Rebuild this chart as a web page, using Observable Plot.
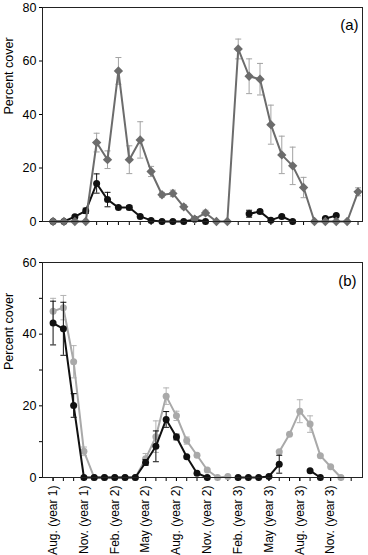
<!DOCTYPE html>
<html>
<head>
<meta charset="utf-8">
<script src="https://cdn.jsdelivr.net/npm/d3@7"></script>
<script src="https://cdn.jsdelivr.net/npm/@observablehq/plot@0.6"></script>
<style>
  html, body { margin: 0; padding: 0; background: #fff; }
  #wrap { position: relative; width: 368px; height: 555px; background: #fff; }
  #pa, #pb { position: absolute; left: 0; }
  #pa { top: 0; }
  #pb { top: 250px; }
</style>
</head>
<body>
<div id="wrap"><div id="pa"></div><div id="pb"></div></div>
<script>
// ---------- Panel (a) data ----------
const samplesA = [0,1,2,3,4,5,6,7,8,9,10,11,12,13,14,15,16,17,18,19,20,21,22,23,24,25,26,27,28];
const grayA    = [0,0,0,0,29.5,23.1,56.3,23.1,30.5,18.7,10,10.5,5.5,0.9,3.2,0,0,64.5,54.3,53.2,36.2,24.9,20.8,12.7,0,0,0,0,11.1];
const grayAErr = [null,null,null,null,3.5,3.3,5,5.2,6.8,1.9,0.9,1.2,0.8,0.6,1.0,null,null,3.7,6.5,5.9,7.3,7,7,3.8,null,null,null,null,1.5];
const blackA   = [0,0,1.8,4.0,14.2,8.2,5.2,5.2,1.9,0.4,0,0,0,0.8,0,null,null,null,2.9,3.7,0.5,1.9,0,null,null,1.1,2.2,null,null];
const blackAErr= [null,null,null,1.0,3.6,2.7,null,0.8,null,null,null,null,null,null,null,null,null,null,1.3,0.6,null,0.4,null,null,null,null,null,null,null];
const yTicksA  = [0,20,40,60,80];

// ---------- Panel (b) data ----------
const samplesB = [0,1,2,3,4,5,6,7,8,9,10,11,12,13,14,15,16,17,18,19,20,21,22,23,24,25,26,27,28];
const grayB    = [46.4,47.4,32.3,7.3,0,0,0,0,0,5.2,11.4,22.7,17.2,10.3,6.2,2.1,0,0.3,null,null,null,null,7.2,12.1,18.5,14.9,6.1,3.0,0];
const grayBErr = [3.6,3.4,4.5,1.2,null,null,null,null,null,1.5,4.4,2.3,1.3,1.0,null,null,null,null,null,null,null,null,null,null,3.2,2.3,null,null,null];
const blackB   = [43.1,41.5,20.1,0,0,0,0,0,0,4.2,8.7,16.2,11.3,5.8,1.2,0,null,null,0,0,0,0.3,3.7,null,null,1.9,0,null,null];
const blackBErr= [6.1,7.4,3.3,null,null,null,null,null,null,0.8,4.3,2.2,0.8,null,null,null,null,null,null,null,null,null,2.5,null,null,null,null,null,null];
const yTicksB  = [0,10,20,30,40,50,60];
const yLabelsB = [0,20,40,60];
const xTicksB  = [0,1,2,3,4,5,6,7,8,9,10,11,12,13,14,15,16,17,18,19,20,21,22,23,24,25,26,27,28,29];
const labelPos = [0,3,6,9,12,15,18,21,24,27];
const monthLabels = ["Aug. (year 1)","Nov. (year 1)","Feb. (year 2)","May (year 2)","Aug. (year 2)",
                     "Nov. (year 2)","Feb. (year 3)","May (year 3)","Aug. (year 3)","Nov. (year 3)"];

const FONT = "'Liberation Sans', Arial, Helvetica, sans-serif";
const cap = { draw(ctx, size) { const w = Math.sqrt(size / Math.PI); ctx.moveTo(-w, 0); ctx.lineTo(w, 0); } };

function rows(xs, v, e) {
  return xs.map((i, k) => ({ i, v: v[k], e: e[k] }));
}
function errMarks(data, color) {
  const d = data.filter(r => r.v != null && r.e != null);
  return [
    Plot.ruleX(d, { x: "i", y1: r => Math.max(0, r.v - r.e), y2: r => r.v + r.e, stroke: color, strokeWidth: 1 }),
    Plot.dot(d, { x: "i", y: r => r.v + r.e, symbol: cap, r: 3, stroke: color, strokeWidth: 1, fill: "none" }),
    Plot.dot(d.filter(r => r.v - r.e > 0), { x: "i", y: r => r.v - r.e, symbol: cap, r: 3, stroke: color, strokeWidth: 1, fill: "none" })
  ];
}
function seriesMarks(data, color, symbol, r) {
  return [
    Plot.line(data, { x: "i", y: "v", stroke: color, strokeWidth: 2 }),
    Plot.dot(data.filter(d => d.v != null), { x: "i", y: "v", fill: color, stroke: "none", symbol, r })
  ];
}

const style = { fontFamily: FONT, fontSize: "12px", background: "#fff", color: "#000", overflow: "visible" };

// ---------- Panel (a) ----------
const gA = rows(samplesA, grayA, grayAErr);
const bA = rows(samplesA, blackA, blackAErr);
const plotA = Plot.plot({
  width: 368, height: 228,
  marginLeft: 42, marginRight: 6, marginTop: 7, marginBottom: 7,
  style,
  x: { domain: [-0.97, 28.41], axis: null },
  y: { domain: [0, 80], axis: null },
  marks: [
    Plot.axisY({ ticks: yTicksA, tickSize: 3, tickPadding: 3, label: null, fontSize: 12.5 }),
    Plot.axisX({ ticks: samplesA, tickSize: 4, tickFormat: () => "", label: null }),
    ...errMarks(bA, "#111"),
    ...seriesMarks(bA, "#111", "circle", 3.5),
    ...errMarks(gA, "#a3a3a3"),
    ...seriesMarks(gA, "#6c6c6c", "diamond2", 4.2),
    Plot.frame({ stroke: "#222", strokeWidth: 1 }),
    Plot.text(["(a)"], { frameAnchor: "top-right", text: d => d, dx: -4, dy: 18, fontSize: 15, lineAnchor: "middle" }),
    Plot.text(["Percent cover"], { frameAnchor: "left", text: d => d, rotate: -90, dx: -34, fontSize: 12.5 })
  ]
});
document.getElementById("pa").appendChild(plotA);

// ---------- Panel (b) ----------
const gB = rows(samplesB, grayB, grayBErr);
const bB = rows(samplesB, blackB, blackBErr);
const plotB = Plot.plot({
  width: 368, height: 305,
  marginLeft: 42, marginRight: 6, marginTop: 12, marginBottom: 78,
  style,
  x: { domain: [-1.03, 30.1], axis: null },
  y: { domain: [0, 60], axis: null },
  marks: [
    Plot.axisY({ ticks: yTicksB, tickSize: 3, tickPadding: 3, label: null, fontSize: 12.5,
                 tickFormat: d => yLabelsB.includes(d) ? String(d) : "" }),
    Plot.axisX({ ticks: xTicksB, tickSize: 4, tickFormat: () => "", label: null }),
    Plot.axisX({ ticks: labelPos, tickSize: 4, tickPadding: 4, tickRotate: -90, label: null, fontSize: 12,
                 tickFormat: d => monthLabels[labelPos.indexOf(d)] }),
    ...errMarks(gB, "#b3b3b3"),
    ...seriesMarks(gB, "#a9a9a9", "circle", 3.5),
    ...errMarks(bB, "#111"),
    ...seriesMarks(bB, "#111", "circle", 3.5),
    Plot.frame({ stroke: "#222", strokeWidth: 1 }),
    Plot.text(["(b)"], { frameAnchor: "top-right", text: d => d, dx: -6, dy: 18.5, fontSize: 15, lineAnchor: "middle" }),
    Plot.text(["Percent cover"], { frameAnchor: "left", text: d => d, rotate: -90, dx: -34, fontSize: 12.5 })
  ]
});
document.getElementById("pb").appendChild(plotB);
</script>
</body>
</html>
